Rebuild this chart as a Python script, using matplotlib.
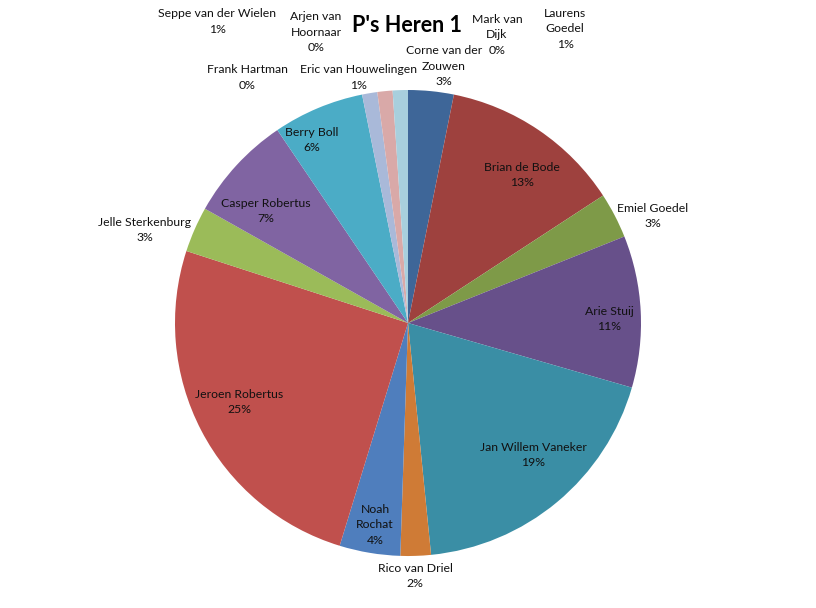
import matplotlib
matplotlib.use("Agg")
import matplotlib.pyplot as plt

players = ["Corne van der\nZouwen", "Brian de Bode", "Emiel Goedel", "Arie Stuij",
           "Jan Willem Vaneker", "Rico van Driel", "Noah\nRochat", "Jeroen Robertus",
           "Jelle Sterkenburg", "Casper Robertus", "Berry Boll", "Eric van Houwelingen",
           "Frank Hartman", "Seppe van der Wielen", "Arjen van\nHoornaar", "Mark van\nDijk",
           "Laurens\nGoedel"]
goals = [3, 12, 3, 10, 18, 2, 4, 24, 3, 7, 6, 1, 0, 1, 0, 0, 1]
colors = ["#3E6698", "#9E413E", "#7E9A48", "#67508A", "#3A8EA5", "#CF7B36", "#4F7EBD",
          "#C0504D", "#9BBB59", "#8064A2", "#4BACC6", "#A9B9D9", "#F5BF9C", "#D9A9A8",
          "#CADBAA", "#B9ABCC", "#A8CFDD"]
title = "P's Heren 1"

# label block centres in pixel coordinates (x from left, y from top)
label_pos = [(444, 66), (522, 175), (653, 216), (609, 319), (533, 455), (415, 576),
             (375, 525), (239, 402), (145, 230), (266, 211), (312, 140), (358, 77.5),
             (247, 77.5), (217, 21.5), (316, 32), (497, 35), (565, 29)]

W, H = 816, 608
fig = plt.figure(figsize=(W / 100, H / 100), dpi=100)
ax = fig.add_axes([0, 0, 1, 1])

ax.pie(goals, colors=colors, startangle=90, counterclock=False,
       center=(408, H - 323), radius=233,
       wedgeprops=dict(linewidth=0), frame=True)
ax.set_xlim(0, W)
ax.set_ylim(0, H)
ax.set_aspect("equal")
ax.axis("off")

total = sum(goals)
font = "Lato"
for name, v, (x, y) in zip(players, goals, label_pos):
    pct = f"{round(v / total * 100)}%"
    ax.text(x, H - y, f"{name}\n{pct}", ha="center", va="center", fontsize=8.8,
            family=font, color="#111111", linespacing=1.5, multialignment="center")

ax.text(407, H - 26, title, ha="center", va="center", fontsize=15.5, fontweight="bold",
        family=font, color="black")

fig.savefig("out.png", dpi=100)
